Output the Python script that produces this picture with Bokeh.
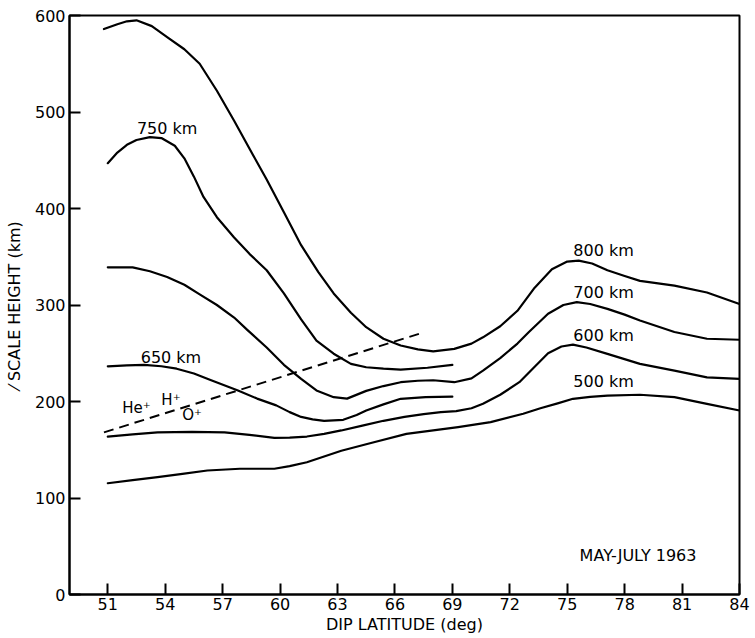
from bokeh.plotting import figure
from bokeh.embed import file_html
from bokeh.resources import INLINE
from bokeh.models import Range1d, FixedTicker
from bokeh.core.properties import value

FONT = "DejaVu Sans"

# ---- data ----
lat_800 = [50.8, 51.5, 52.0, 52.5, 53.3, 54.1, 55.0, 55.8, 56.7, 57.6, 58.6, 59.3, 60.2, 61.1, 62.0, 62.8, 63.7, 64.5, 65.4, 66.3, 67.2, 68.0, 69.1, 70.0, 70.6, 71.5, 72.4, 73.3, 74.2, 75.0, 75.6, 76.3, 77.1, 78.0, 78.8, 80.6, 82.3, 84.0]
h_800 = [586, 591, 594, 595, 589, 577.5, 565, 550, 522, 491, 455, 430, 396, 362, 334, 312, 292, 277, 265, 258, 254, 252, 254.5, 260, 266.5, 278, 294, 318, 337, 345, 346, 343, 336, 330, 325, 320, 313, 301]

lat_750 = [51.0, 51.5, 52.0, 52.5, 53.2, 53.8, 54.5, 55.0, 55.5, 56.0, 56.7, 57.6, 58.4, 59.3, 60.2, 61.1, 61.9, 62.8, 63.7, 64.5, 65.4, 66.3, 67.7, 69.0]
h_750 = [447, 458, 466, 471, 474, 473, 465, 452, 433, 412, 391, 370, 353, 336, 312, 285, 263, 249.5, 239, 235.5, 234, 233, 235, 238]

lat_700 = [51.0, 52.3, 53.2, 54.1, 55.0, 55.8, 56.7, 57.6, 58.3, 59.3, 60.2, 61.1, 61.9, 62.8, 63.5, 64.5, 65.4, 66.3, 67.2, 68.0, 69.1, 70.0, 70.6, 71.5, 72.4, 73.0, 74.0, 74.8, 75.5, 76.2, 77.1, 78.0, 78.8, 80.6, 82.3, 84.0]
h_700 = [339, 339, 335, 329, 321, 311, 300, 287, 274, 256, 238, 223.5, 211.5, 204.5, 203, 211, 216, 220, 221.5, 222, 220, 224, 232, 245, 260, 272, 291, 300, 303, 301, 296, 290, 284, 272, 265, 264]

lat_650 = [51.0, 52.0, 52.9, 53.8, 54.6, 55.5, 56.4, 57.8, 58.8, 59.8, 60.5, 61.1, 61.7, 62.3, 63.3, 64.0, 64.5, 65.4, 66.3, 67.6, 69.0]
h_650 = [236.5, 237.5, 238, 236.5, 234, 229, 222, 211.4, 203, 196, 189, 184, 181.5, 180, 181, 186, 190.7, 197, 202.8, 204.5, 205]

lat_600 = [51.0, 52.3, 53.6, 55.4, 57.1, 58.4, 59.7, 60.5, 61.4, 62.3, 63.2, 64.3, 65.4, 66.5, 67.5, 68.4, 69.2, 70.0, 70.6, 71.5, 72.5, 73.3, 74.0, 74.7, 75.3, 76.0, 77.1, 78.8, 80.6, 82.3, 84.0]
h_600 = [163.7, 166, 168, 168.5, 168, 165.5, 162.4, 162.5, 163.7, 166.5, 170, 175, 180, 184, 187, 189, 190, 193, 197.6, 207, 220, 236, 250, 257, 259, 256, 249.4, 239, 232, 225, 223.5]

lat_500 = [51.0, 52.3, 53.6, 54.9, 56.2, 57.9, 59.7, 60.5, 61.4, 62.3, 63.2, 64.9, 66.6, 68.0, 69.3, 71.0, 72.7, 73.6, 74.5, 75.3, 76.2, 77.1, 78.8, 80.6, 82.3, 84.0]
h_500 = [115.3, 118.5, 121.6, 125, 128.5, 130.3, 130.3, 133, 137, 143, 149, 157.8, 166.5, 170, 173.4, 178.6, 187.3, 193, 198, 202.8, 204.8, 206, 207, 204.5, 197.6, 190.7]

lat_trans = [50.8, 67.4]
h_trans = [168, 271]

x_ticks = [51, 54, 57, 60, 63, 66, 69, 72, 75, 78, 81, 84]
y_ticks = [0, 100, 200, 300, 400, 500, 600]

curve_labels = ["750 km", "650 km", "800 km", "700 km", "600 km", "500 km"]
label_x = [54.1, 54.3, 76.9, 76.9, 76.9, 76.9]
label_y = [483, 246, 356, 313, 268, 221]

ion_labels = ["He⁺", "H⁺", "O⁺"]
ion_x = [52.5, 54.3, 55.4]
ion_y = [193, 202, 186]

note_text = ["MAY-JULY 1963"]
note_x = [78.7]
note_y = [40]

# ---- figure ----
p = figure(width=755, height=638, output_backend="svg", toolbar_location=None,
           x_range=Range1d(49.0, 84.0), y_range=Range1d(0, 600),
           min_border_left=69, min_border_right=16, min_border_top=15, min_border_bottom=44)
p.background_fill_color = "white"
p.border_fill_color = "white"
p.outline_line_color = "black"
p.outline_line_width = 2
p.xgrid.visible = False
p.ygrid.visible = False

for ax in (p.xaxis[0], p.yaxis[0]):
    ax.axis_line_width = 2
    ax.axis_line_color = "black"
    ax.major_tick_in = 11
    ax.major_tick_out = 0
    ax.major_tick_line_width = 2
    ax.minor_tick_line_color = None
    ax.major_label_text_font = FONT
    ax.major_label_text_font_size = "16px"
    ax.major_label_text_color = "black"
    ax.axis_label_text_font = FONT
    ax.axis_label_text_font_size = "16px"
    ax.axis_label_text_font_style = "normal"
    ax.axis_label_text_color = "black"

p.xaxis[0].ticker = FixedTicker(ticks=x_ticks)
p.yaxis[0].ticker = FixedTicker(ticks=y_ticks)
p.xaxis[0].major_label_standoff = 3
p.xaxis[0].axis_label_standoff = 2
p.yaxis[0].major_label_standoff = 4
p.yaxis[0].axis_label_standoff = 8
p.xaxis[0].axis_label = "DIP LATITUDE (deg)"
p.yaxis[0].axis_label = "⁄ SCALE HEIGHT (km)"

for xs, ys in [(lat_800, h_800), (lat_750, h_750), (lat_700, h_700),
               (lat_650, h_650), (lat_600, h_600), (lat_500, h_500)]:
    p.line(xs, ys, line_color="black", line_width=2.2, line_join="round", line_cap="round")

p.line(lat_trans, h_trans, line_color="black", line_width=2, line_dash="10 6")

p.text(x=label_x, y=label_y, text=curve_labels, text_font=value(FONT),
       text_font_size="16px", text_align="center", text_baseline="middle", text_color="black")
p.text(x=ion_x, y=ion_y, text=ion_labels, text_font=value(FONT),
       text_font_size="15px", text_align="center", text_baseline="middle", text_color="black")
p.text(x=note_x, y=note_y, text=note_text, text_font=value(FONT),
       text_font_size="16px", text_align="center", text_baseline="middle", text_color="black")

open("out.html", "w").write(file_html(p, INLINE))
